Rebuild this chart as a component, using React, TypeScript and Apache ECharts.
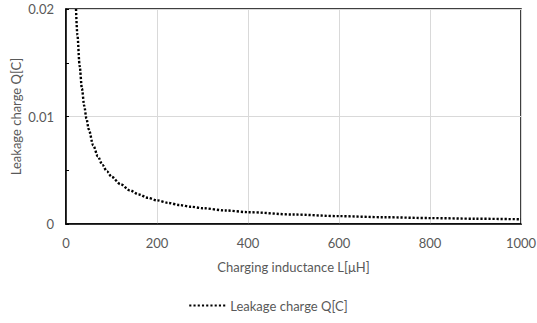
import React, { useEffect, useRef } from "react";
import * as echarts from "echarts";

// Charging inductance L [μH]
const inductance = [22, 25, 30, 35, 40, 45, 50, 60, 70, 80, 90, 100, 120, 140, 160, 180, 200, 225, 250, 275, 300, 350, 400, 500, 600, 700, 800, 900, 1000];
// Leakage charge Q [C]
const leakageCharge = [0.02, 0.0176, 0.0147, 0.0126, 0.011, 0.0098, 0.0088, 0.0073, 0.0063, 0.0055, 0.0049, 0.0044, 0.0037, 0.00314, 0.00275, 0.00244, 0.0022, 0.00196, 0.00176, 0.0016, 0.00147, 0.00126, 0.0011, 0.00088, 0.00073, 0.00063, 0.00055, 0.00049, 0.00044];

const seriesName = "Leakage charge Q[C]";
const xTitle = "Charging inductance L[μH]";
const yTitle = "Leakage charge Q[C]";

const FONT = "Lato, 'Open Sans', sans-serif";
const TEXT = "#595959";

export default function App() {
  const ref = useRef<HTMLDivElement>(null);

  useEffect(() => {
    document.body.style.margin = "0";
    if (!ref.current) return;
    const chart = echarts.init(ref.current, null, { renderer: "svg" });
    chart.setOption({
      animation: false,
      backgroundColor: "#ffffff",
      textStyle: { fontFamily: FONT },
      grid: {
        left: 66,
        right: 16,
        top: 9,
        bottom: 99,
        containLabel: false,
        outerBoundsMode: "none",
        show: true,
        borderColor: "#000000",
        borderWidth: 1.5,
        backgroundColor: "transparent",
      },
      legend: {
        bottom: 6,
        left: "center",
        itemWidth: 36,
        itemHeight: 4,
        itemGap: 10,
        textStyle: { color: TEXT, fontSize: 13, fontFamily: FONT },
        data: [{ name: seriesName, icon: "path://M0,0 L2,0 L2,2 L0,2 Z M4,0 L6,0 L6,2 L4,2 Z M8,0 L10,0 L10,2 L8,2 Z M12,0 L14,0 L14,2 L12,2 Z M16,0 L18,0 L18,2 L16,2 Z M20,0 L22,0 L22,2 L20,2 Z M24,0 L26,0 L26,2 L24,2 Z M28,0 L30,0 L30,2 L28,2 Z M32,0 L34,0 L34,2 L32,2 Z" }],
      },
      xAxis: {
        type: "value",
        min: 0,
        max: 1000,
        interval: 200,
        name: xTitle,
        nameLocation: "middle",
        nameGap: 36,
        nameMoveOverlap: false,
        nameTextStyle: { color: TEXT, fontSize: 13, fontFamily: FONT },
        axisLine: { show: true, lineStyle: { color: "#000000", width: 1.5 } },
        axisTick: { show: false },
        axisLabel: { color: TEXT, fontSize: 13, margin: 12, fontFamily: FONT, formatter: (v: number) => String(v) },
        splitLine: { show: true, lineStyle: { color: "#d9d9d9", width: 1 } },
      },
      yAxis: {
        type: "value",
        min: 0,
        max: 0.02,
        interval: 0.01,
        name: yTitle,
        nameLocation: "middle",
        nameGap: 44,
        nameMoveOverlap: false,
        nameTextStyle: { color: TEXT, fontSize: 13, fontFamily: FONT },
        axisLine: { show: true, lineStyle: { color: "#000000", width: 1.5 } },
        axisTick: { show: true, inside: true, length: 3, lineStyle: { color: "#000000" } },
        minorTick: { show: true, splitNumber: 2, length: 3, lineStyle: { color: "#000000" } },
        axisLabel: { color: TEXT, fontSize: 13, margin: 12, fontFamily: FONT },
        splitLine: { show: true, lineStyle: { color: "#d9d9d9", width: 1 } },
      },
      series: [
        {
          name: seriesName,
          type: "line",
          smooth: 0.3,
          smoothMonotone: "x",
          showSymbol: false,
          data: inductance.map((l, i) => [l, leakageCharge[i]]),
          lineStyle: { color: "#000000", width: 2.4, type: [2.2, 1.8], cap: "butt" },
          itemStyle: { color: "#000000" },
        },
      ],
    });
    return () => chart.dispose();
  }, []);

  return <div ref={ref} style={{ width: 537, height: 323 }} />;
}
